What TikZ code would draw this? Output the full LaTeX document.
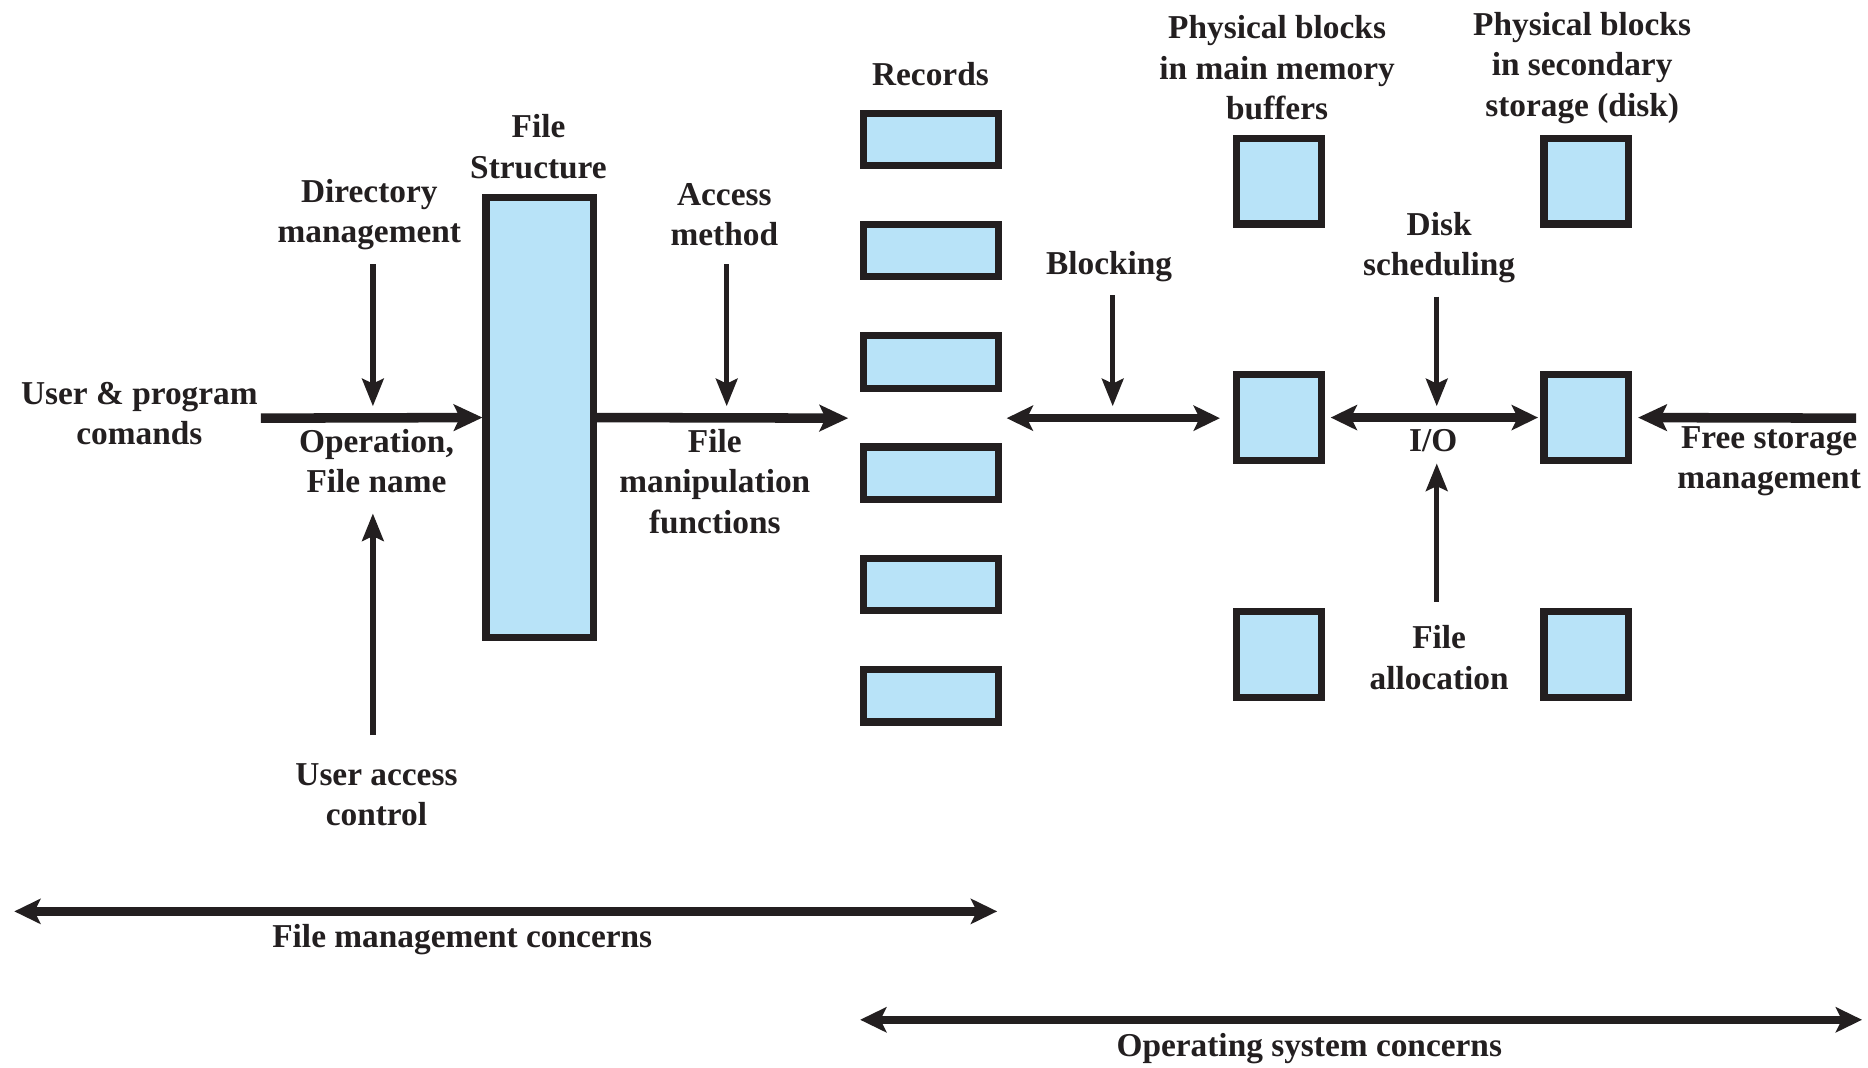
\documentclass[tikz,border=0pt]{standalone}
\usepackage{fontspec}
\setmainfont{Liberation Serif}
\usetikzlibrary{arrows.meta}
\definecolor{ink}{RGB}{35,31,32}
\definecolor{boxfill}{RGB}{184,227,248}
\begin{document}
\begin{tikzpicture}[x=1pt,y=-1pt,
  lbl/.style={inner sep=0pt,align=center,text=ink,font=\fontsize{28}{34}\selectfont\bfseries},
  blk/.style={draw=ink,fill=boxfill,line width=6pt,inner sep=0pt},
  rec/.style={blk,minimum width=113pt,minimum height=44pt},
  phys/.style={blk,minimum width=71pt,minimum height=72pt},
  thin/.style={draw=ink,line width=4.5pt,-{Stealth[length=23pt,width=18pt,inset=4pt]}},
  thick/.style={draw=ink,line width=8pt,-{Stealth[length=24pt,width=22pt,inset=5pt]}},
  dbl/.style={draw=ink,line width=7pt,{Stealth[length=22pt,width=21pt,inset=5pt]}-{Stealth[length=22pt,width=21pt,inset=5pt]}}
]
\useasboundingbox (0,0) rectangle (1568,896);
\fill[white] (0,0) rectangle (1568,896);

% file structure box
\node[blk,minimum width=90pt,minimum height=369pt] (fs) at (453,350.5) {};
% record boxes
\foreach \i/\yy in {1/117,2/210.4,3/303.8,4/397.2,5/490.6,6/584}
  \node[rec] (r\i) at (781.5,\yy) {};
% physical blocks
\node[phys] (m1) at (1073.5,152) {};
\node[phys] (m2) at (1073.5,350.5) {};
\node[phys] (m3) at (1073.5,549.5) {};
\node[phys] (d1) at (1331.5,152) {};
\node[phys] (d2) at (1331.5,350.5) {};
\node[phys] (d3) at (1331.5,549.5) {};

% labels
\node[lbl] (fslbl) at (452,123) {File\\Structure};
\node[lbl] (dir) at (310,180) {Directory\\management};
\node[lbl] (acc) at (608,180) {Access\\method};
\node[lbl] (recl) at (781,62) {Records};
\node[lbl] (user) at (117,347) {User \& program\\comands};
\node[lbl] (op) at (316,387) {Operation,\\File name};
\node[lbl] (uac) at (316,667) {User access\\control};
\node[lbl] (fmf) at (600,404) {File\\manipulation\\functions};
\node[lbl] (blocking) at (931,224) {Blocking};
\node[lbl] (pbm) at (1072,57) {Physical blocks\\in main memory\\buffers};
\node[lbl] (pbs) at (1328,57) {Physical blocks\\in secondary\\storage (disk)};
\node[lbl] (disk) at (1208,208) {Disk\\scheduling};
\node[lbl] (io) at (1203,370) {I/O};
\node[lbl] (falloc) at (1208,552) {File\\allocation};
\node[lbl] (free) at (1485,387) {Free storage\\management};
\node[lbl] (fmc) at (388,789) {File management concerns};
\node[lbl] (osc) at (1099,880) {Operating system concerns};

% free ends
\coordinate (a0) at (219,351);
\coordinate (a1) at (712,351);
\coordinate (b0) at (845,351);
\coordinate (b1) at (1024,351);
\coordinate (dirS) at (313,222);
\coordinate (dirE) at (313,341);
\coordinate (uacS) at (313,617);
\coordinate (uacE) at (313,431);
\coordinate (accS) at (610,222);
\coordinate (accE) at (610,341);
\coordinate (blkS) at (934,248);
\coordinate (blkE) at (934,341);
\coordinate (dskS) at (1206,249);
\coordinate (dskE) at (1206,341);
\coordinate (faS) at (1206,505);
\coordinate (faE) at (1206,389);
\coordinate (frS) at (1558,351);
\coordinate (fmcL) at (12,765);
\coordinate (fmcR) at (837,765);
\coordinate (oscL) at (722,856);
\coordinate (oscR) at (1563,856);

% connectors
\draw[thick] (a0) -- (fs.west);
\draw[thick] (fs.east) -- (a1);
\draw[dbl] (b0) -- (b1);
\draw[dbl,shorten <=5pt,shorten >=2pt] (m2.east) -- (d2.west);
\draw[thick,shorten >=5pt] (frS) -- (d2.east);
\draw[thin] (dirS) -- (dirE);
\draw[thin] (uacS) -- (uacE);
\draw[thin] (accS) -- (accE);
\draw[thin] (blkS) -- (blkE);
\draw[thin] (dskS) -- (dskE);
\draw[thin] (faS) -- (faE);
\draw[dbl] (fmcL) -- (fmcR);
\draw[dbl] (oscL) -- (oscR);
\end{tikzpicture}
\end{document}
